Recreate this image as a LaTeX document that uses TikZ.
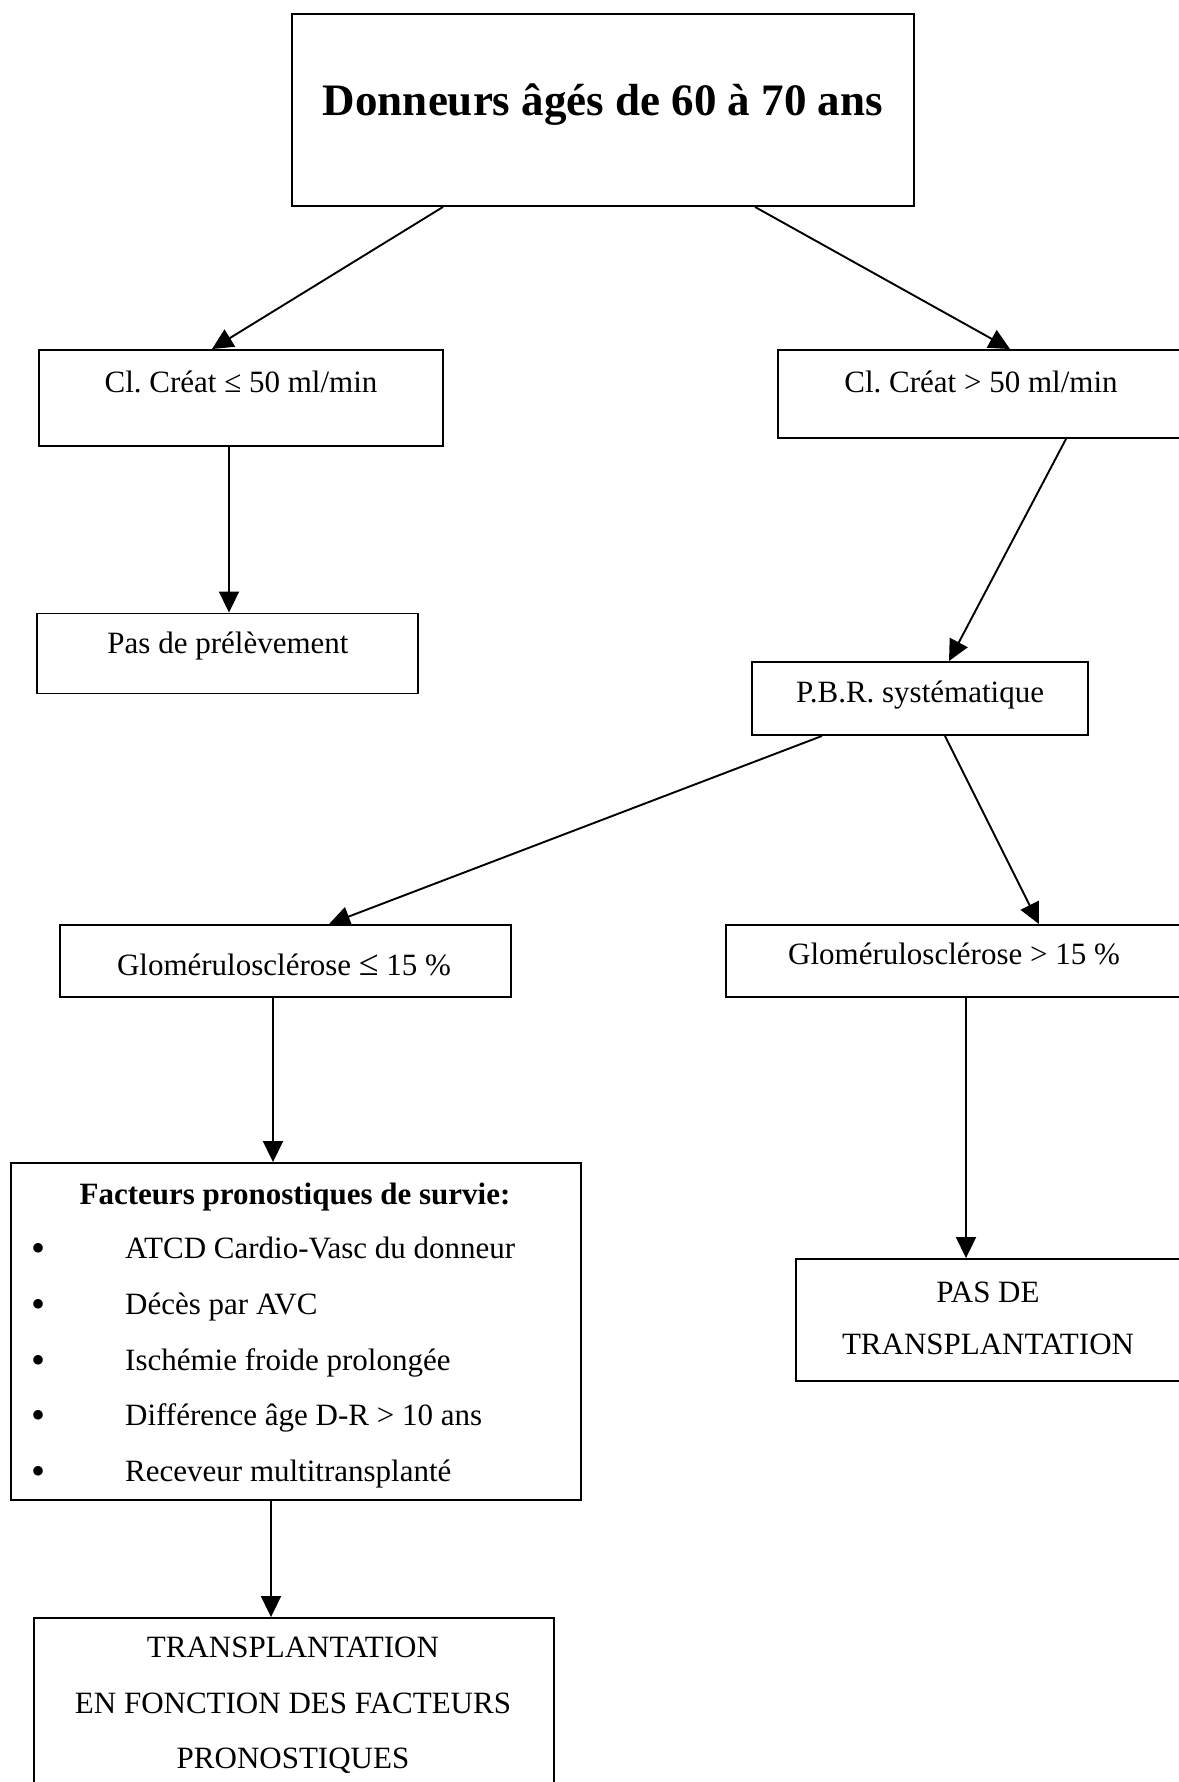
\documentclass[tikz,border=0pt]{standalone}
\usepackage{fontspec}
\setmainfont{Liberation Serif}
\usetikzlibrary{arrows.meta}
\frenchspacing
\begin{document}
\begin{tikzpicture}[x=1pt,y=-1pt,
  box/.style={draw, line width=1.9pt, inner sep=0pt},
  txt/.style={anchor=base, inner sep=0pt, font=\fontsize{31}{37}\selectfont},
  txtw/.style={anchor=base west, inner sep=0pt, font=\fontsize{31}{37}\selectfont},
  arr/.style={line width=1.9pt, -{Triangle[length=21pt,width=20pt]}}]
\useasboundingbox (0,0) rectangle (1178,1782);
\fill[white] (0,0) rectangle (1178,1782);
% boxes
\node[box, minimum width=622pt, minimum height=192pt] (top) at (603,110) {};
\node[box, minimum width=404pt, minimum height=96pt] (L1) at (241,398) {};
\node[box, minimum width=406pt, minimum height=88pt] (R1) at (981,394) {};
\node[box, minimum width=381pt, minimum height=80pt] (pas) at (227.5,653.5) {};
\node[box, minimum width=336pt, minimum height=73pt] (pbr) at (920,698.5) {};
\node[box, minimum width=451pt, minimum height=72pt] (gl) at (285.5,961) {};
\node[box, minimum width=456pt, minimum height=72pt] (gr) at (954,961) {};
\node[box, minimum width=570pt, minimum height=337pt] (fact) at (296,1331.5) {};
\node[box, minimum width=520pt, minimum height=190pt] (tr) at (294,1713) {};
\node[box, minimum width=386pt, minimum height=122pt] (nt) at (989,1320) {};
% texts
\node[txt, font=\fontsize{45}{54}\selectfont\bfseries] (ttop) at (603,116) {Donneurs âgés de 60 à 70 ans};
\node[txt] (tL1) at (241,392) {Cl. Créat ≤ 50 ml/min};
\node[txt] (tR1) at (981,392) {Cl. Créat > 50 ml/min};
\node[txt] (tpas) at (228,653) {Pas de prélèvement};
\node[txt] (tpbr) at (920,702) {P.B.R. systématique};
\node[txt] (tgl) at (284,975) {Glomérulosclérose {\fontsize{36}{37}\selectfont≤} 15 \%};
\node[txt] (tgr) at (954,964) {Glomérulosclérose > 15 \%};
\node[txt, font=\fontsize{31}{37}\selectfont\bfseries] (tf) at (295,1204) {Facteurs pronostiques de survie:};
\foreach \i/\t/\y in {1/ATCD Cardio-Vasc du donneur/1258, 2/Décès par AVC/1314, 3/Ischémie froide prolongée/1370, 4/Différence âge D-R > 10 ans/1425, 5/Receveur multitransplanté/1481}{
  \node[txt, font=\fontsize{40}{40}\selectfont] (b\i) at (39,\y+3) {\textbullet};
  \node[txtw] (f\i) at (125,\y) {\t};
}
\node[txt] (tr1) at (293,1657) {TRANSPLANTATION};
\node[txt] (tr2) at (293,1713) {EN FONCTION DES FACTEURS};
\node[txt] (tr3) at (293,1768) {PRONOSTIQUES};
\node[txt] (nt1) at (988,1302) {PAS DE};
\node[txt] (nt2) at (988,1354) {TRANSPLANTATION};
% arrows
\draw[arr] ([xshift=-160pt]top.south) -- ([xshift=-29pt]L1.north);
\draw[arr] ([xshift=152pt]top.south) -- ([xshift=29pt]R1.north);
\draw[arr] ([xshift=-12pt]L1.south) -- ([xshift=1.5pt]pas.north);
\draw[arr] ([xshift=85pt]R1.south) -- ([xshift=29pt]pbr.north);
\draw[arr] ([xshift=-98pt]pbr.south) -- ([xshift=43.5pt]gl.north);
\draw[arr] ([xshift=25pt]pbr.south) -- ([xshift=85pt]gr.north);
\draw[arr] ([xshift=-12.5pt]gl.south) -- ([xshift=-23pt]fact.north);
\draw[arr] ([xshift=12pt]gr.south) -- ([xshift=-23pt]nt.north);
\draw[arr] ([xshift=-25pt]fact.south) -- ([xshift=-23pt]tr.north);
\end{tikzpicture}
\end{document}
